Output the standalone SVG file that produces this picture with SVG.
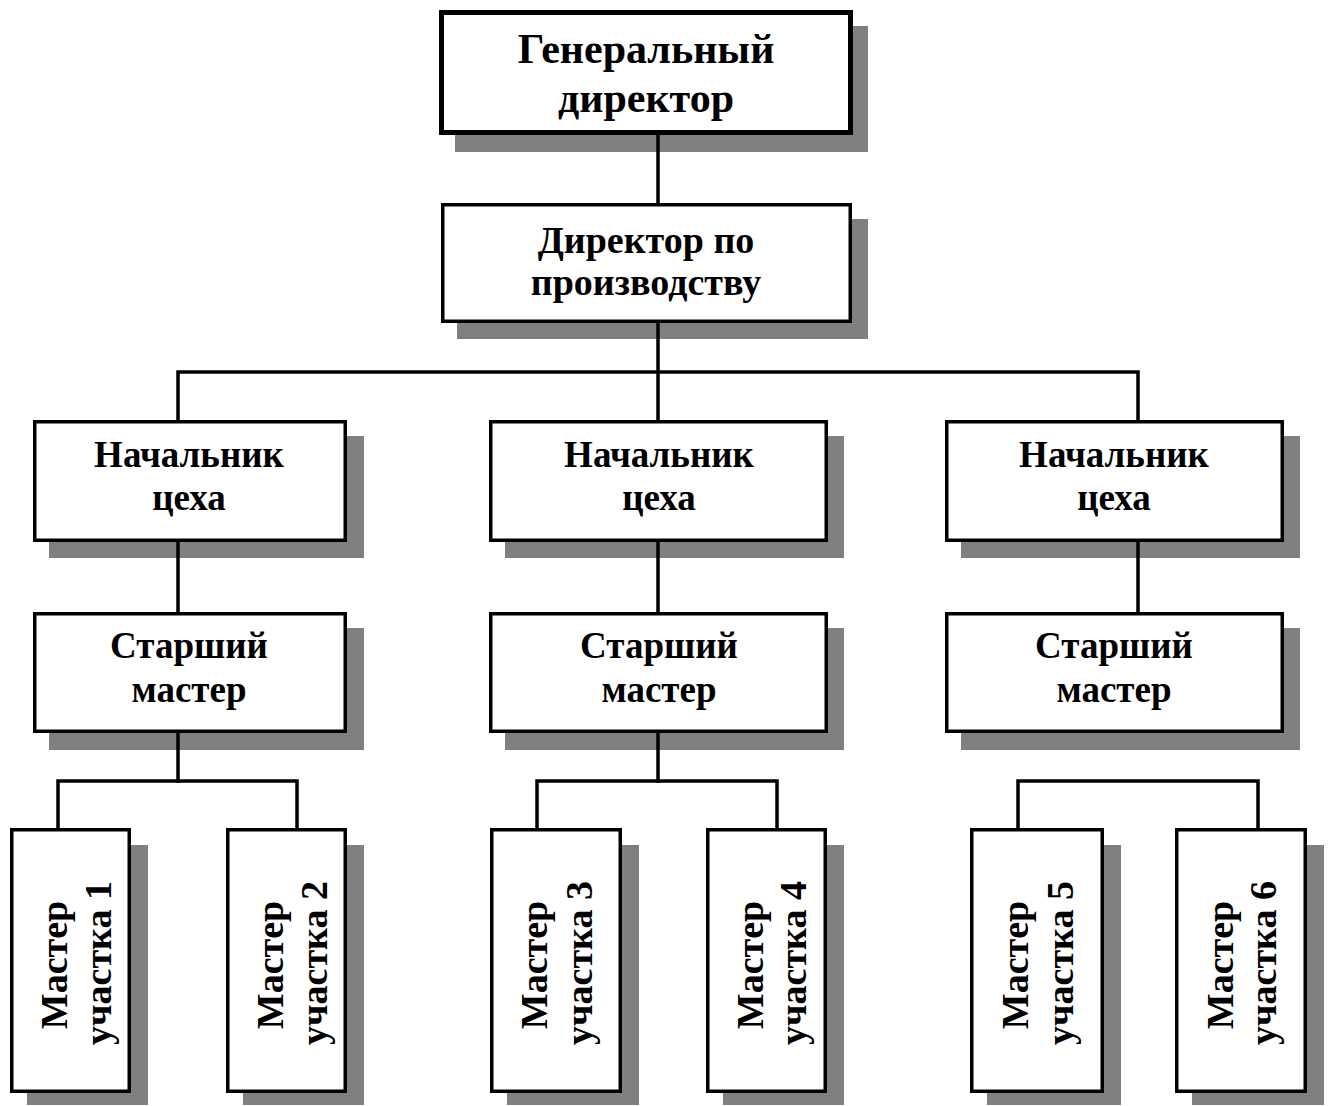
<svg xmlns="http://www.w3.org/2000/svg" width="1328" height="1106" viewBox="0 0 1328 1106">
<style>
.bg{fill:#ffffff}
.sh{fill:#808080}
.box{fill:#ffffff;stroke:#000000;stroke-width:3.5}
.boxt{fill:#ffffff;stroke:#000000;stroke-width:5}
.t{font-family:"Liberation Serif","Times New Roman",serif;font-weight:bold;fill:#000000;text-anchor:middle}
.c{stroke:#000000;stroke-width:3.5;fill:none;stroke-linecap:square}
</style>
<rect class="bg" x="0" y="0" width="1328" height="1106"/>
<g id="gen-director">
<rect class="sh" x="455" y="26" width="413" height="126"/>
<rect class="boxt" x="441.5" y="12.5" width="409" height="120"/>
<text class="t" x="646" y="63" font-size="42">Генеральный</text>
<text class="t" x="646" y="112" font-size="42">директор</text>
</g>
<g id="prod-director">
<rect class="sh" x="457" y="219" width="411" height="120"/>
<rect class="box" x="442.75" y="204.75" width="407.5" height="116.5"/>
<text class="t" x="646" y="253" font-size="38">Директор по</text>
<text class="t" x="646" y="295" font-size="38">производству</text>
</g>
<g id="shop-1">
<rect class="sh" x="49" y="436" width="315" height="122"/>
<rect class="box" x="34.75" y="421.75" width="310.5" height="118.5"/>
<text class="t" x="189" y="467" font-size="37">Начальник</text>
<text class="t" x="189" y="510" font-size="37">цеха</text>
</g>
<g id="shop-2">
<rect class="sh" x="505" y="436" width="339" height="122"/>
<rect class="box" x="490.75" y="421.75" width="335.5" height="118.5"/>
<text class="t" x="659" y="467" font-size="37">Начальник</text>
<text class="t" x="659" y="510" font-size="37">цеха</text>
</g>
<g id="shop-3">
<rect class="sh" x="961" y="436" width="339" height="122"/>
<rect class="box" x="946.75" y="421.75" width="335.5" height="118.5"/>
<text class="t" x="1114" y="467" font-size="37">Начальник</text>
<text class="t" x="1114" y="510" font-size="37">цеха</text>
</g>
<g id="senior-1">
<rect class="sh" x="49" y="628" width="315" height="122"/>
<rect class="box" x="34.75" y="613.75" width="310.5" height="117.5"/>
<text class="t" x="189" y="658" font-size="37">Старший</text>
<text class="t" x="189" y="702" font-size="37">мастер</text>
</g>
<g id="senior-2">
<rect class="sh" x="505" y="628" width="339" height="122"/>
<rect class="box" x="490.75" y="613.75" width="335.5" height="117.5"/>
<text class="t" x="659" y="658" font-size="37">Старший</text>
<text class="t" x="659" y="702" font-size="37">мастер</text>
</g>
<g id="senior-3">
<rect class="sh" x="961" y="628" width="339" height="122"/>
<rect class="box" x="946.75" y="613.75" width="335.5" height="117.5"/>
<text class="t" x="1114" y="658" font-size="37">Старший</text>
<text class="t" x="1114" y="702" font-size="37">мастер</text>
</g>
<g id="master-1">
<rect class="sh" x="27" y="845" width="121" height="260"/>
<rect class="box" x="11.75" y="829.75" width="117.5" height="261.5"/>
<text class="t" font-size="38" transform="translate(67,965) rotate(-90)">Мастер</text>
<text class="t" font-size="38" transform="translate(111,963) rotate(-90)">участка 1</text>
</g>
<g id="master-2">
<rect class="sh" x="243" y="845" width="121" height="260"/>
<rect class="box" x="227.75" y="829.75" width="117.5" height="261.5"/>
<text class="t" font-size="38" transform="translate(283,965) rotate(-90)">Мастер</text>
<text class="t" font-size="38" transform="translate(327,963) rotate(-90)">участка 2</text>
</g>
<g id="master-3">
<rect class="sh" x="507" y="845" width="132" height="260"/>
<rect class="box" x="491.75" y="829.75" width="128.5" height="261.5"/>
<text class="t" font-size="38" transform="translate(547,965) rotate(-90)">Мастер</text>
<text class="t" font-size="38" transform="translate(592,963) rotate(-90)">участка 3</text>
</g>
<g id="master-4">
<rect class="sh" x="723" y="845" width="121" height="260"/>
<rect class="box" x="707.75" y="829.75" width="117.5" height="261.5"/>
<text class="t" font-size="38" transform="translate(763,965) rotate(-90)">Мастер</text>
<text class="t" font-size="38" transform="translate(806,963) rotate(-90)">участка 4</text>
</g>
<g id="master-5">
<rect class="sh" x="987" y="845" width="134" height="260"/>
<rect class="box" x="971.75" y="829.75" width="130.5" height="261.5"/>
<text class="t" font-size="38" transform="translate(1028,965) rotate(-90)">Мастер</text>
<text class="t" font-size="38" transform="translate(1073,963) rotate(-90)">участка 5</text>
</g>
<g id="master-6">
<rect class="sh" x="1192" y="845" width="132" height="260"/>
<rect class="box" x="1176.75" y="829.75" width="128.5" height="261.5"/>
<text class="t" font-size="38" transform="translate(1233,965) rotate(-90)">Мастер</text>
<text class="t" font-size="38" transform="translate(1276,963) rotate(-90)">участка 6</text>
</g>
<g id="connectors">
<line class="c" x1="658" y1="135" x2="658" y2="203"/>
<line class="c" x1="658" y1="323" x2="658" y2="420"/>
<polyline class="c" points="178,420 178,372 1138,372 1138,420"/>
<line class="c" x1="178" y1="542" x2="178" y2="612"/>
<line class="c" x1="658" y1="542" x2="658" y2="612"/>
<line class="c" x1="1138" y1="542" x2="1138" y2="612"/>
<line class="c" x1="178" y1="733" x2="178" y2="781"/>
<line class="c" x1="658" y1="733" x2="658" y2="781"/>
<polyline class="c" points="58,828 58,781 297,781 297,828"/>
<polyline class="c" points="537,828 537,781 777,781 777,828"/>
<polyline class="c" points="1018,828 1018,781 1258,781 1258,828"/>
</g>
</svg>
